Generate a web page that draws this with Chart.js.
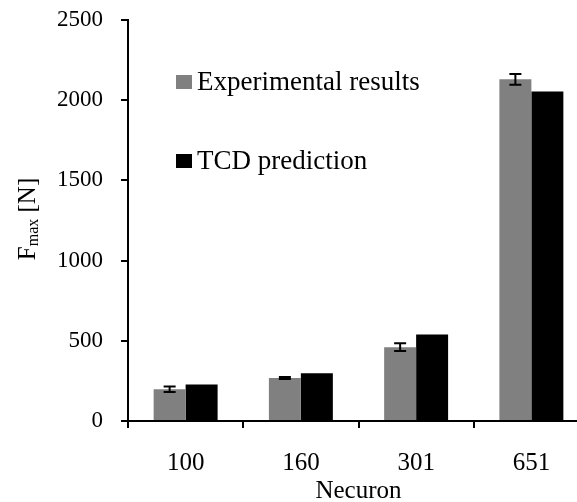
<!DOCTYPE html>
<html>
<head>
<meta charset="utf-8">
<script src="https://cdn.jsdelivr.net/npm/chart.js@4/dist/chart.umd.min.js"></script>
<style>
  html, body { margin: 0; padding: 0; background: #fff; overflow: hidden; }
  #chart-bar { display: block; }
</style>
</head>
<body>
<canvas id="chart-bar" width="600" height="510"></canvas>
<script>
const categories = ['100', '160', '301', '651'];
const experimental = [198, 268, 460, 2130];
const experimentalErr = [17, 6, 24, 34];
const prediction = [227, 298, 540, 2055];
const yTicks = [0, 500, 1000, 1500, 2000, 2500];

const FONT = 'Liberation Serif';

const errorBars = {
  id: 'errorBars',
  afterDatasetsDraw(chart) {
    const { ctx, scales: { y } } = chart;
    const meta = chart.getDatasetMeta(0);
    ctx.save();
    ctx.strokeStyle = '#000';
    ctx.lineWidth = 2;
    meta.data.forEach((bar, i) => {
      const v = experimental[i], e = experimentalErr[i];
      const top = y.getPixelForValue(v + e);
      const bot = y.getPixelForValue(v - e);
      ctx.beginPath();
      ctx.moveTo(bar.x, top); ctx.lineTo(bar.x, bot);
      ctx.moveTo(bar.x - 6, top); ctx.lineTo(bar.x + 6, top);
      ctx.moveTo(bar.x - 6, bot); ctx.lineTo(bar.x + 6, bot);
      ctx.stroke();
    });
    ctx.restore();
  },
};

const insideLegend = {
  id: 'insideLegend',
  afterDraw(chart) {
    const { ctx } = chart;
    const rows = [82, 161];
    ctx.save();
    ctx.font = `27px "${FONT}"`;
    ctx.textBaseline = 'middle';
    chart.data.datasets.forEach((ds, i) => {
      ctx.fillStyle = ds.backgroundColor;
      ctx.fillRect(176, rows[i] - 7, 16, 14);
      ctx.fillStyle = '#000';
      ctx.fillText(ds.label, 197, rows[i] + 1);
    });
    ctx.restore();
  },
};

const yTitle = {
  id: 'yTitle',
  afterDraw(chart) {
    const { ctx } = chart;
    ctx.save();
    ctx.translate(28, 219);
    ctx.rotate(-Math.PI / 2);
    ctx.fillStyle = '#000';
    ctx.textBaseline = 'middle';
    const big = `25px "${FONT}"`, small = `16px "${FONT}"`;
    ctx.font = big;
    const wF = ctx.measureText('F').width;
    const wN = ctx.measureText(' [N]').width;
    ctx.font = small;
    const wM = ctx.measureText('max').width;
    let x = -(wF + wM + wN) / 2;
    ctx.font = big;
    ctx.fillText('F', x, 0);
    x += wF;
    ctx.font = small;
    ctx.fillText('max', x, 6);
    x += wM;
    ctx.font = big;
    ctx.fillText(' [N]', x, 0);
    ctx.restore();
  },
};

new Chart(document.getElementById('chart-bar').getContext('2d'), {
  type: 'bar',
  data: {
    labels: categories,
    datasets: [
      {
        label: 'Experimental results',
        data: experimental,
        backgroundColor: '#808080',
        categoryPercentage: 0.555,
        barPercentage: 1,
      },
      {
        label: 'TCD prediction',
        data: prediction,
        backgroundColor: '#000000',
        categoryPercentage: 0.555,
        barPercentage: 1,
      },
    ],
  },
  options: {
    responsive: false,
    animation: false,
    layout: { padding: { top: 20, right: 11, left: 0, bottom: 0 } },
    plugins: { legend: { display: false }, tooltip: { enabled: false } },
    scales: {
      x: {
        offset: true,
        border: { color: '#000', width: 2 },
        grid: { offset: true, drawOnChartArea: false, drawTicks: true, tickLength: 7, tickColor: '#000', lineWidth: 2 },
        ticks: { color: '#000', font: { family: FONT, size: 25 }, padding: 20, maxRotation: 0 },
        title: { display: true, text: 'Necuron', color: '#000', font: { family: FONT, size: 25, lineHeight: 1 }, padding: { top: 0, bottom: 6 } },
        afterFit: s => { s.height = 89; s.paddingLeft = 0; s.paddingRight = 0; },
      },
      y: {
        min: 0,
        max: 2500,
        afterBuildTicks: s => { s.ticks = yTicks.map(v => ({ value: v })); },
        border: { color: '#000', width: 2 },
        grid: { drawOnChartArea: false, drawTicks: true, tickLength: 7, tickColor: '#000', lineWidth: 2 },
        ticks: { color: '#000', font: { family: FONT, size: 23 }, padding: 18, callback: v => String(v) },
        afterFit: s => { s.width = 128; s.paddingTop = 0; s.paddingBottom = 0; },
      },
    },
  },
  plugins: [errorBars, insideLegend, yTitle],
});
</script>
</body>
</html>
